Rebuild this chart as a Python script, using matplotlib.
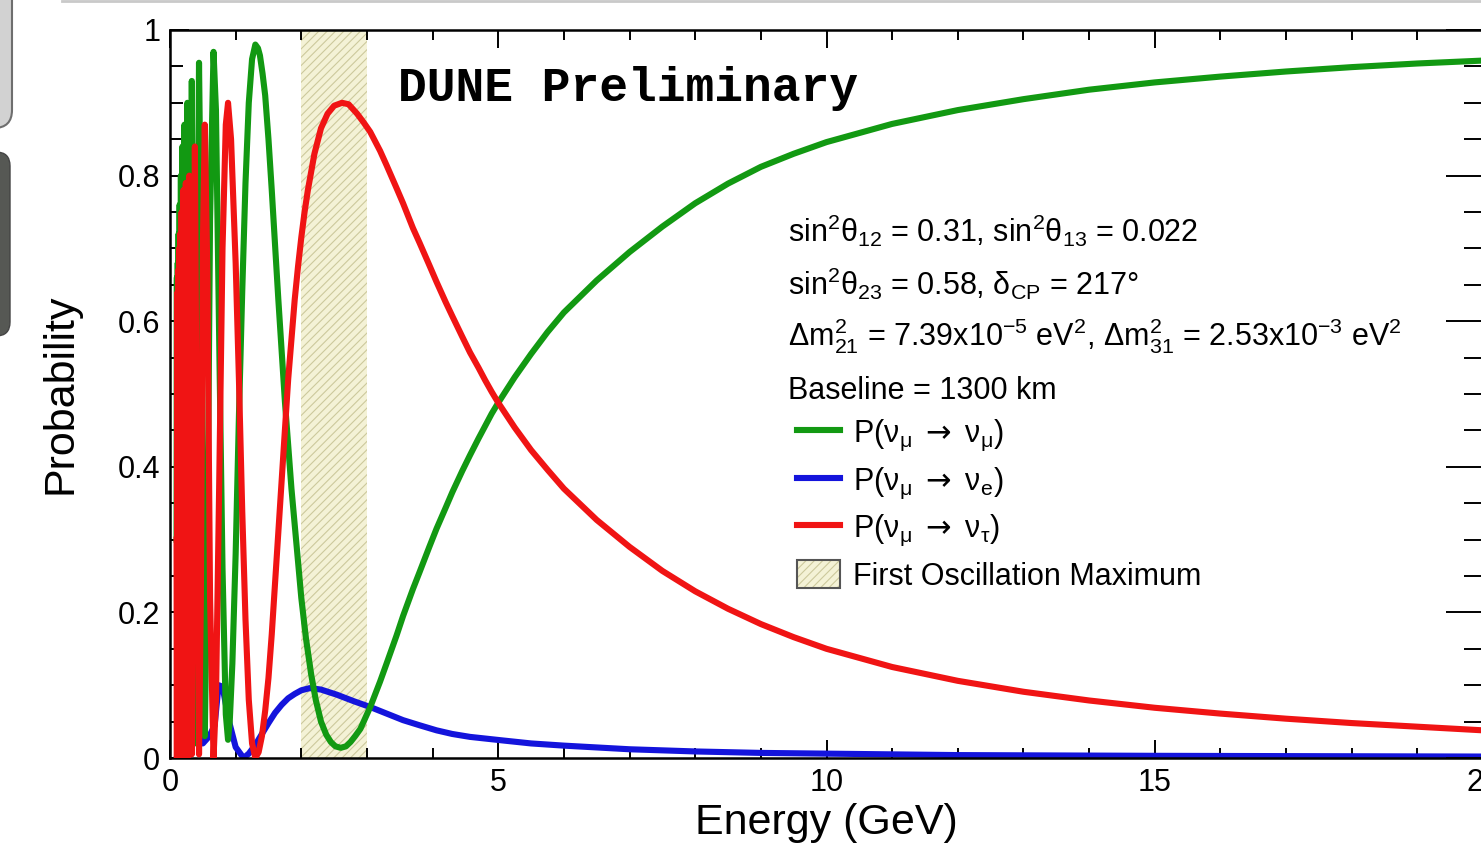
import matplotlib
matplotlib.use('Agg')
import matplotlib.pyplot as plt
from matplotlib.lines import Line2D
from matplotlib.patches import Patch, FancyBboxPatch
from matplotlib.ticker import MultipleLocator, FuncFormatter
from matplotlib.transforms import IdentityTransform

plt.rcParams['font.family'] = ['Liberation Sans', 'DejaVu Sans']
plt.rcParams['mathtext.fontset'] = 'custom'
plt.rcParams['mathtext.rm'] = 'Liberation Sans'
plt.rcParams['mathtext.it'] = 'Liberation Sans:italic'
plt.rcParams['mathtext.bf'] = 'Liberation Sans:bold'
plt.rcParams['mathtext.sf'] = 'DejaVu Sans'
plt.rcParams['hatch.linewidth'] = 0.8

# P(nu_mu -> nu_mu)
green_energy = [0.10, 0.105, 0.112, 0.118, 0.124, 0.131, 0.138, 0.147, 0.156, 0.166,
                0.177, 0.19, 0.203, 0.221, 0.241, 0.265, 0.28, 0.295, 0.312, 0.332,
                0.355, 0.379, 0.405, 0.442, 0.47, 0.50, 0.53, 0.57, 0.61, 0.663,
                0.70, 0.75, 0.80, 0.85, 0.884, 0.91, 0.95, 1.0, 1.05, 1.1,
                1.15, 1.2, 1.25, 1.30, 1.34, 1.37, 1.41, 1.45, 1.5, 1.55,
                1.6, 1.65, 1.7, 1.75, 1.8, 1.85, 1.92, 2.0, 2.07, 2.15,
                2.22, 2.3, 2.38, 2.45, 2.52, 2.6, 2.68, 2.75, 2.82, 2.9,
                2.97, 3.05, 3.2, 3.3, 3.45, 3.55, 3.7, 3.8, 3.95, 4.06,
                4.2, 4.3, 4.45, 4.57, 4.7, 4.8, 4.9, 5.0, 5.25, 5.5,
                5.75, 6.0, 6.5, 7.0, 7.5, 8.0, 8.5, 9.0, 9.5, 10.0,
                11.0, 12.0, 13.0, 14.0, 15.0, 16.0, 17.0, 18.0, 19.0, 20.0]
green_prob = [0.30, 0.66, 0.03, 0.68, 0.02, 0.72, 0.02, 0.76, 0.02, 0.80,
              0.02, 0.84, 0.02, 0.87, 0.02, 0.90, 0.45, 0.02, 0.45, 0.93,
              0.45, 0.02, 0.45, 0.955, 0.73, 0.23, 0.03, 0.29, 0.74, 0.97,
              0.89, 0.57, 0.26, 0.06, 0.025, 0.05, 0.13, 0.28, 0.47, 0.64,
              0.79, 0.90, 0.96, 0.98, 0.975, 0.965, 0.94, 0.91, 0.85, 0.78,
              0.705, 0.63, 0.56, 0.49, 0.43, 0.37, 0.30, 0.22, 0.165, 0.115,
              0.08, 0.05, 0.032, 0.022, 0.016, 0.014, 0.016, 0.022, 0.03, 0.04,
              0.054, 0.07, 0.105, 0.13, 0.168, 0.195, 0.232, 0.255, 0.29, 0.315,
              0.344, 0.365, 0.394, 0.416, 0.439, 0.456, 0.473, 0.488, 0.523, 0.555,
              0.585, 0.612, 0.656, 0.695, 0.73, 0.762, 0.789, 0.812, 0.83, 0.846,
              0.871, 0.89, 0.905, 0.918, 0.928, 0.936, 0.943, 0.949, 0.954, 0.958]

# P(nu_mu -> nu_e)
blue_energy = [0.10, 0.2, 0.3, 0.4, 0.5, 0.6, 0.68, 0.74, 0.8, 0.9,
               1.0, 1.12, 1.2, 1.3, 1.4, 1.5, 1.6, 1.7, 1.8, 1.9,
               2.0, 2.13, 2.3, 2.54, 2.8, 3.05, 3.3, 3.55, 3.8, 4.06,
               4.3, 4.57, 5.08, 5.5, 6.0, 7.0, 8.0, 9.0, 10.0, 12.0,
               15.0, 20.0]
blue_prob = [0.0, 0.03, 0.01, 0.04, 0.02, 0.03, 0.045, 0.10, 0.098, 0.05,
             0.015, 0.0, 0.006, 0.018, 0.033, 0.048, 0.062, 0.073, 0.082, 0.088,
             0.093, 0.096, 0.094, 0.087, 0.078, 0.07, 0.061, 0.052, 0.045, 0.038,
             0.033, 0.029, 0.024, 0.02, 0.017, 0.012, 0.009, 0.007, 0.006, 0.004,
             0.003, 0.002]

# P(nu_mu -> nu_tau)
red_energy = [0.10, 0.105, 0.112, 0.118, 0.124, 0.131, 0.138, 0.147, 0.156, 0.166,
              0.177, 0.19, 0.203, 0.221, 0.241, 0.265, 0.28, 0.295, 0.312, 0.332,
              0.355, 0.379, 0.405, 0.442, 0.47, 0.50, 0.53, 0.57, 0.61, 0.663,
              0.70, 0.75, 0.80, 0.85, 0.884, 0.93, 1.0, 1.05, 1.1, 1.15,
              1.2, 1.25, 1.30, 1.35, 1.40, 1.45, 1.5, 1.55, 1.6, 1.65,
              1.7, 1.75, 1.8, 1.85, 1.9, 1.95, 2.0, 2.05, 2.1, 2.2,
              2.3, 2.4, 2.5, 2.62, 2.72, 2.85, 2.95, 3.05, 3.2, 3.3,
              3.45, 3.55, 3.7, 3.8, 3.95, 4.06, 4.2, 4.3, 4.45, 4.57,
              4.7, 4.8, 4.9, 5.0, 5.25, 5.5, 5.75, 6.0, 6.5, 7.0,
              7.5, 8.0, 8.5, 9.0, 9.5, 10.0, 11.0, 12.0, 13.0, 14.0,
              15.0, 16.0, 17.0, 18.0, 19.0, 20.0]
red_prob = [0.30, 0.0, 0.64, 0.0, 0.67, 0.0, 0.70, 0.0, 0.72, 0.0,
            0.75, 0.0, 0.78, 0.0, 0.79, 0.0, 0.42, 0.80, 0.40, 0.005,
            0.45, 0.84, 0.45, 0.005, 0.22, 0.70, 0.87, 0.66, 0.22, 0.0,
            0.08, 0.38, 0.70, 0.87, 0.90, 0.85, 0.68, 0.52, 0.34, 0.19,
            0.08, 0.02, 0.0, 0.008, 0.03, 0.065, 0.11, 0.17, 0.24, 0.31,
            0.38, 0.45, 0.52, 0.575, 0.63, 0.675, 0.715, 0.75, 0.78, 0.83,
            0.865, 0.885, 0.896, 0.90, 0.898, 0.885, 0.873, 0.86, 0.834, 0.814,
            0.783, 0.762, 0.728, 0.708, 0.677, 0.654, 0.626, 0.607, 0.579, 0.557,
            0.536, 0.519, 0.503, 0.488, 0.454, 0.423, 0.396, 0.37, 0.327, 0.29,
            0.257, 0.229, 0.205, 0.184, 0.166, 0.15, 0.125, 0.106, 0.091, 0.079,
            0.069, 0.061, 0.054, 0.048, 0.043, 0.038]

band_range = [2.0, 3.0]  # first oscillation maximum (GeV)

params = [r'sin$^2$θ$_{12}$ = 0.31, sin$^2$θ$_{13}$ = 0.022',
          r'sin$^2$θ$_{23}$ = 0.58, δ$_{\mathrm{CP}}$ = 217°',
          r'Δm$^2_{21}$ = 7.39x10$^{-5}$ eV$^2$, Δm$^2_{31}$ = 2.53x10$^{-3}$ eV$^2$',
          'Baseline = 1300 km']
arrow = r'$\mathsf{\rightarrow}$'
labels = [r'P(ν$_{\mathrm{μ}}$ ' + arrow + r' ν$_{\mathrm{μ}}$)',
          r'P(ν$_{\mathrm{μ}}$ ' + arrow + r' ν$_{\mathrm{e}}$)',
          r'P(ν$_{\mathrm{μ}}$ ' + arrow + r' ν$_{\mathrm{τ}}$)',
          'First Oscillation Maximum']

c_green = '#129912'
c_blue = '#1414dc'
c_red = '#f01414'
band_face = '#f4f2d6'
band_hatch = '#cdc99c'
lw = 4.4

fig = plt.figure(figsize=(14.81, 8.46), dpi=100)
ax = fig.add_axes([170 / 1481, 1 - 758 / 846, 1313 / 1481, 728 / 846])

ax.axvspan(band_range[0], band_range[1], facecolor=band_face, edgecolor=band_hatch,
           hatch='////', linewidth=0, zorder=0.5)
ax.plot(blue_energy, blue_prob, color=c_blue, lw=lw, zorder=2)
ax.plot(green_energy, green_prob, color=c_green, lw=lw, zorder=2)
ax.plot(red_energy, red_prob, color=c_red, lw=lw, zorder=3)

ax.set_xlim(0, 20)
ax.set_ylim(0, 1)
ax.xaxis.set_major_locator(MultipleLocator(5))
ax.xaxis.set_minor_locator(MultipleLocator(1))
ax.yaxis.set_major_locator(MultipleLocator(0.2))
ax.yaxis.set_minor_locator(MultipleLocator(0.05))
fmt = FuncFormatter(lambda v, _: f'{v:g}')
ax.xaxis.set_major_formatter(fmt)
ax.yaxis.set_major_formatter(fmt)
ax.tick_params(axis='x', which='both', direction='in', top=True, width=1.4,
               labelsize=22, pad=7)
ax.tick_params(axis='x', which='major', length=13)
ax.tick_params(axis='x', which='minor', length=7)
ax.tick_params(axis='y', which='both', direction='in', right=False, width=1.4,
               labelsize=22, pad=7)
ax.tick_params(axis='y', which='major', length=14)
ax.tick_params(axis='y', which='minor', length=9)
for s in ax.spines.values():
    s.set_linewidth(1.8)

# right-hand ticks are longer than the left ones
ax2 = ax.twinx()
ax2.set_ylim(0, 1)
ax2.yaxis.set_major_locator(MultipleLocator(0.2))
ax2.yaxis.set_minor_locator(MultipleLocator(0.05))
ax2.tick_params(axis='y', which='both', direction='in', labelright=False, width=1.4)
ax2.tick_params(axis='y', which='major', length=27)
ax2.tick_params(axis='y', which='minor', length=14)
for s in ax2.spines.values():
    s.set_visible(False)

ax.set_xlabel('Energy (GeV)', fontsize=31, labelpad=4)
ax.set_ylabel('Probability', fontsize=31, labelpad=27)

ax.text(0.1737, 0.920, 'DUNE Preliminary', transform=ax.transAxes,
        fontsize=34.6, fontweight='bold', family=['Liberation Mono', 'DejaVu Sans Mono'],
        va='center', ha='left')

param_y = [0.709, 0.636, 0.566, 0.493]
for txt, y in zip(params, param_y):
    ax.text(0.4707, y, txt, transform=ax.transAxes, fontsize=22,
            ha='left', va='baseline')

handles = [Line2D([], [], color=c_green, lw=lw),
           Line2D([], [], color=c_blue, lw=lw),
           Line2D([], [], color=c_red, lw=lw),
           (Patch(facecolor=band_face, edgecolor=band_hatch, hatch='////', lw=0),
            Patch(fill=False, edgecolor='#555555', lw=1.5))]
leg = ax.legend(handles, labels, loc='upper left', bbox_to_anchor=(0.4775, 0.467),
                frameon=False, fontsize=22, handlelength=1.4, handleheight=1.0,
                handletextpad=0.42, labelspacing=0.40, borderpad=0, borderaxespad=0)

# screenshot overlay pieces at the left/top border
ident = IdentityTransform()
fig.add_artist(FancyBboxPatch((-30, 846 - 128), 42, 160,
                              boxstyle='round,pad=0,rounding_size=18',
                              facecolor='#d2d2d2', edgecolor='#6e6e6e', lw=1.5,
                              transform=ident))
fig.add_artist(FancyBboxPatch((-30, 846 - 336), 40, 184,
                              boxstyle='round,pad=0,rounding_size=14',
                              facecolor='#565854', edgecolor='#444444', lw=1.0,
                              transform=ident))
fig.add_artist(Line2D([62, 1481], [845, 845], color='#c9c9c9', lw=2.0,
                      transform=ident))

fig.savefig('out.png', dpi=100)
